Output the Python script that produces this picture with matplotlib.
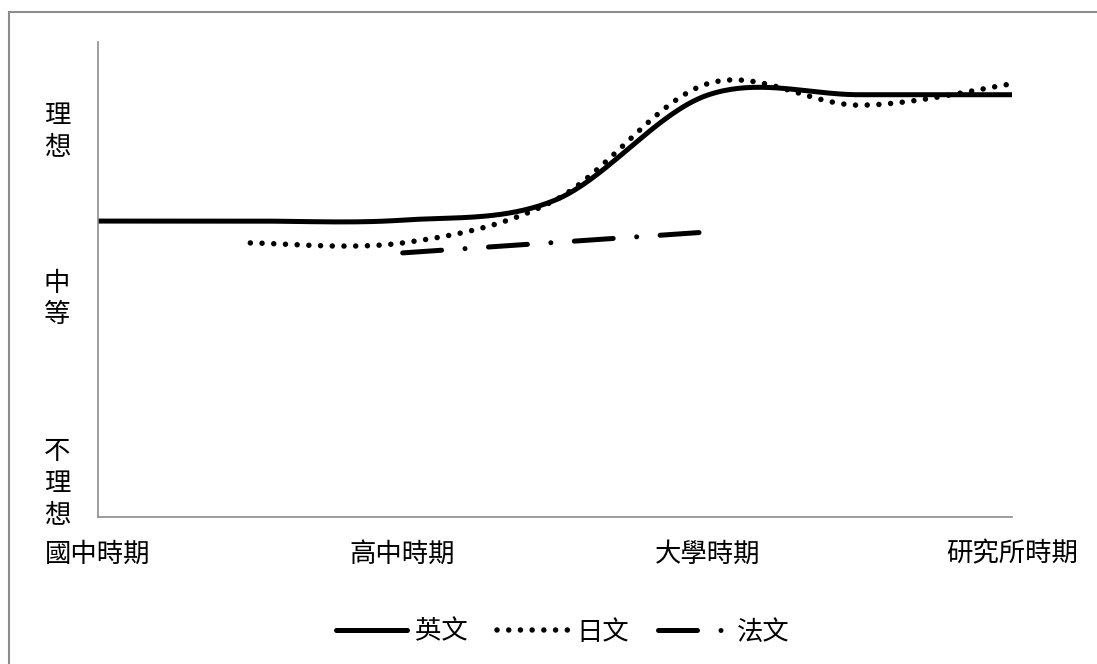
import numpy as np
import matplotlib
matplotlib.use("Agg")
import matplotlib.pyplot as plt
from matplotlib.lines import Line2D

plt.rcParams['font.family'] = ['Noto Sans CJK TC', 'DejaVu Sans']
plt.rcParams['lines.scale_dashes'] = False

# data (0 = 不理想 ... 100 = top of scale)
periods = ["國中時期", "", "高中時期", "", "大學時期", "", "研究所時期"]
english = [62.3, 62.3, 62.5, 66.7, 88.8, 88.9, 88.9]
japanese = [None, 57.7, 57.7, 66.7, 91.2, 86.7, 91.2]
french = [None, None, 55.6, 57.8, 60.0, None, None]
y_labels = ["理\n想", "中\n等", "不\n理\n想"]
y_label_pos = [131, 299, 483]   # pixel centres from top
series_names = ["英文", "日文", "法文"]

W, H = 1097, 664


def smooth(values, n=40):
    """Excel-style smoothed line (Catmull-Rom bezier) through the points."""
    pts = [(i, v) for i, v in enumerate(values) if v is not None]
    xs, ys = np.array([p[0] for p in pts], float), np.array([p[1] for p in pts], float)
    if len(xs) < 3:
        return xs, ys
    px = np.concatenate([[xs[0]], xs, [xs[-1]]])
    py = np.concatenate([[ys[0]], ys, [ys[-1]]])
    t = np.linspace(0, 1, n)
    outx, outy = [], []
    for k in range(1, len(px) - 2):
        p0, p1, p2, p3 = (np.array([px[j], py[j]]) for j in (k - 1, k, k + 1, k + 2))
        c1 = p1 + (p2 - p0) / 6
        c2 = p2 - (p3 - p1) / 6
        b = ((1 - t) ** 3)[:, None] * p1 + (3 * (1 - t) ** 2 * t)[:, None] * c1 \
            + (3 * (1 - t) * t ** 2)[:, None] * c2 + (t ** 3)[:, None] * p2
        outx.extend(b[:, 0]); outy.extend(b[:, 1])
    return np.array(outx), np.array(outy)


px2pt = 72 / 100
fs = 19

fig = plt.figure(figsize=(W / 100, H / 100), dpi=100)
ax = fig.add_axes([98 / W, 1 - 517 / H, (1012 - 98) / W, (517 - 42) / H])

ex, ey = smooth(english)
ax.plot(ex, ey, color="black", lw=5 * px2pt, solid_capstyle="round", label=series_names[0])

jx, jy = smooth(japanese)
ax.plot(jx, jy, color="black", lw=5.5 * px2pt, dash_capstyle="round",
        dashes=(0.01, 11.7 * px2pt), label=series_names[1])

fx, fy = smooth(french)
ax.plot(fx, fy, color="black", lw=5 * px2pt, dash_capstyle="round",
        dashes=(39 * px2pt, 23.5 * px2pt, 0.01, 23.5 * px2pt), label=series_names[2])

ax.set_xlim(0, len(periods) - 1)
ax.set_ylim(0, 100)
ax.set_xticks([i for i, p in enumerate(periods) if p])
ax.set_xticklabels([p for p in periods if p], fontsize=fs)
ax.tick_params(axis="x", length=0, pad=17)
ax.set_yticks([])
for s in ("top", "right"):
    ax.spines[s].set_visible(False)
for s in ("left", "bottom"):
    ax.spines[s].set_color("#8c8c8c")
    ax.spines[s].set_linewidth(1.2)

for lab, yp in zip(y_labels, y_label_pos):
    fig.text(57 / W, 1 - yp / H, lab, ha="center", va="center", fontsize=fs,
             linespacing=1.2)

fig.legend(loc="center", bbox_to_anchor=(563 / W, 1 - 632 / H), ncol=3,
           frameon=False, fontsize=fs, handlelength=2.7, handletextpad=0.3,
           columnspacing=1.1)

# outer chart frame (top and left edges visible)
fig.add_artist(Line2D([9 / W, 1], [1 - 12 / H, 1 - 12 / H], color="#8c8c8c", lw=1.5,
                      transform=fig.transFigure))
fig.add_artist(Line2D([9 / W, 9 / W], [0, 1 - 12 / H], color="#8c8c8c", lw=1.5,
                      transform=fig.transFigure))

fig.savefig("out.png", dpi=100)
